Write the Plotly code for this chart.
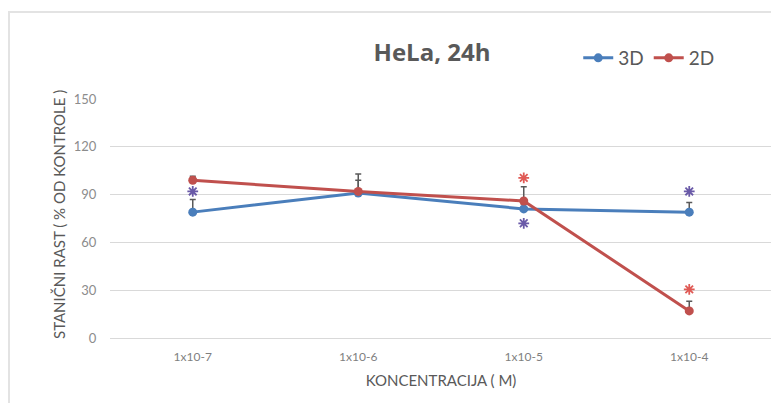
import plotly.graph_objects as go

categories = ["1x10-7", "1x10-6", "1x10-5", "1x10-4"]
y_ticks = [0, 30, 60, 90, 120, 150]

val_3d = [79, 91, 81, 79]
err_3d = [8, 12, 3, 6]
val_2d = [99, 92, 86, 17]
err_2d = [2.5, 7, 9, 6]

sig_3d_cats = ["1x10-7", "1x10-5", "1x10-4"]
sig_3d_y = [92, 72, 92]
sig_2d_cats = ["1x10-5", "1x10-4"]
sig_2d_y = [100.5, 30.5]

BLUE = "#4a7ebb"
RED = "#c0504d"
GRAY = "#595959"
PURPLE = "#6a5aa8"
LRED = "#e05a55"

# page body has an 8px margin; figure coordinates are offset accordingly
L, T, W, H = 102, 91, 662, 239

fig = go.Figure()

fig.add_trace(go.Scatter(
    x=categories, y=val_3d, name="3D", mode="lines+markers",
    line=dict(color=BLUE, width=3),
    marker=dict(color=BLUE, size=9),
    error_y=dict(type="data", symmetric=False, array=err_3d,
                 arrayminus=[0] * len(err_3d), color=GRAY,
                 thickness=1.5, width=3),
))
fig.add_trace(go.Scatter(
    x=categories, y=val_2d, name="2D", mode="lines+markers",
    line=dict(color=RED, width=3),
    marker=dict(color=RED, size=9),
    error_y=dict(type="data", symmetric=False, array=err_2d,
                 arrayminus=[0] * len(err_2d), color=GRAY,
                 thickness=1.5, width=3),
))
fig.add_trace(go.Scatter(
    x=sig_3d_cats, y=sig_3d_y, mode="markers", showlegend=False,
    hoverinfo="skip",
    marker=dict(symbol="asterisk-open", size=9, color=PURPLE,
                line=dict(color=PURPLE, width=1.8)),
))
fig.add_trace(go.Scatter(
    x=sig_2d_cats, y=sig_2d_y, mode="markers", showlegend=False,
    hoverinfo="skip",
    marker=dict(symbol="asterisk-open", size=9, color=LRED,
                line=dict(color=LRED, width=1.8)),
))

fig.update_layout(
    width=779, height=403,
    margin=dict(l=L, r=779 - L - W, t=T, b=403 - T - H, autoexpand=False),
    paper_bgcolor="white", plot_bgcolor="white",
    font=dict(family="'Open Sans', Lato, sans-serif", color=GRAY),
    title=dict(text="<b>HeLa, 24h</b>", x=424 / 779, xanchor="center",
               y=1 - 45 / 403, yanchor="middle",
               font=dict(size=24, color=GRAY, family="Open Sans")),
    legend=dict(orientation="h", x=551 / 779, xanchor="left",
                y=1 - 50 / 403, yanchor="middle", yref="container",
                font=dict(size=19, color=GRAY, family="Lato"),
                itemwidth=30, tracegroupgap=0, bgcolor="rgba(0,0,0,0)"),
    showlegend=True,
)
fig.update_xaxes(
    type="category", categoryorder="array", categoryarray=categories,
    range=[-0.5, 3.5], showgrid=False, showline=False, zeroline=False,
    ticks="", tickfont=dict(size=12, color="#7f7f7f", family="Lato"),
    automargin=False, ticklabelstandoff=10,
    title=dict(text="KONCENTRACIJA ( M)",
               font=dict(size=15, color=GRAY, family="Lato"), standoff=12),
)
fig.update_yaxes(
    range=[0, 150], tickvals=y_ticks, showgrid=True, gridcolor="#d9d9d9",
    gridwidth=1, zeroline=True, zerolinecolor="#d9d9d9", zerolinewidth=1,
    showline=False, ticks="outside", ticklen=10, tickcolor="rgba(0,0,0,0)",
    tickfont=dict(size=13, color="#8c8c8c", family="Lato"),
    automargin=False,
)

fig.add_annotation(
    text="STANIČNI RAST ( % OD KONTROLE )", textangle=-90,
    xref="paper", yref="paper", showarrow=False,
    x=(51 - L) / W, y=(T + H - 207) / H, xanchor="center", yanchor="middle",
    font=dict(size=15, color=GRAY, family="Lato"),
)

fig.add_shape(type="rect", xref="paper", yref="paper",
              x0=(1 - L) / W, x1=(800 - L) / W,
              y0=(T + H - 420) / H, y1=(T + H - 4) / H,
              line=dict(color="#e3e3e3", width=2), layer="below")

fig.write_html("out.html")
